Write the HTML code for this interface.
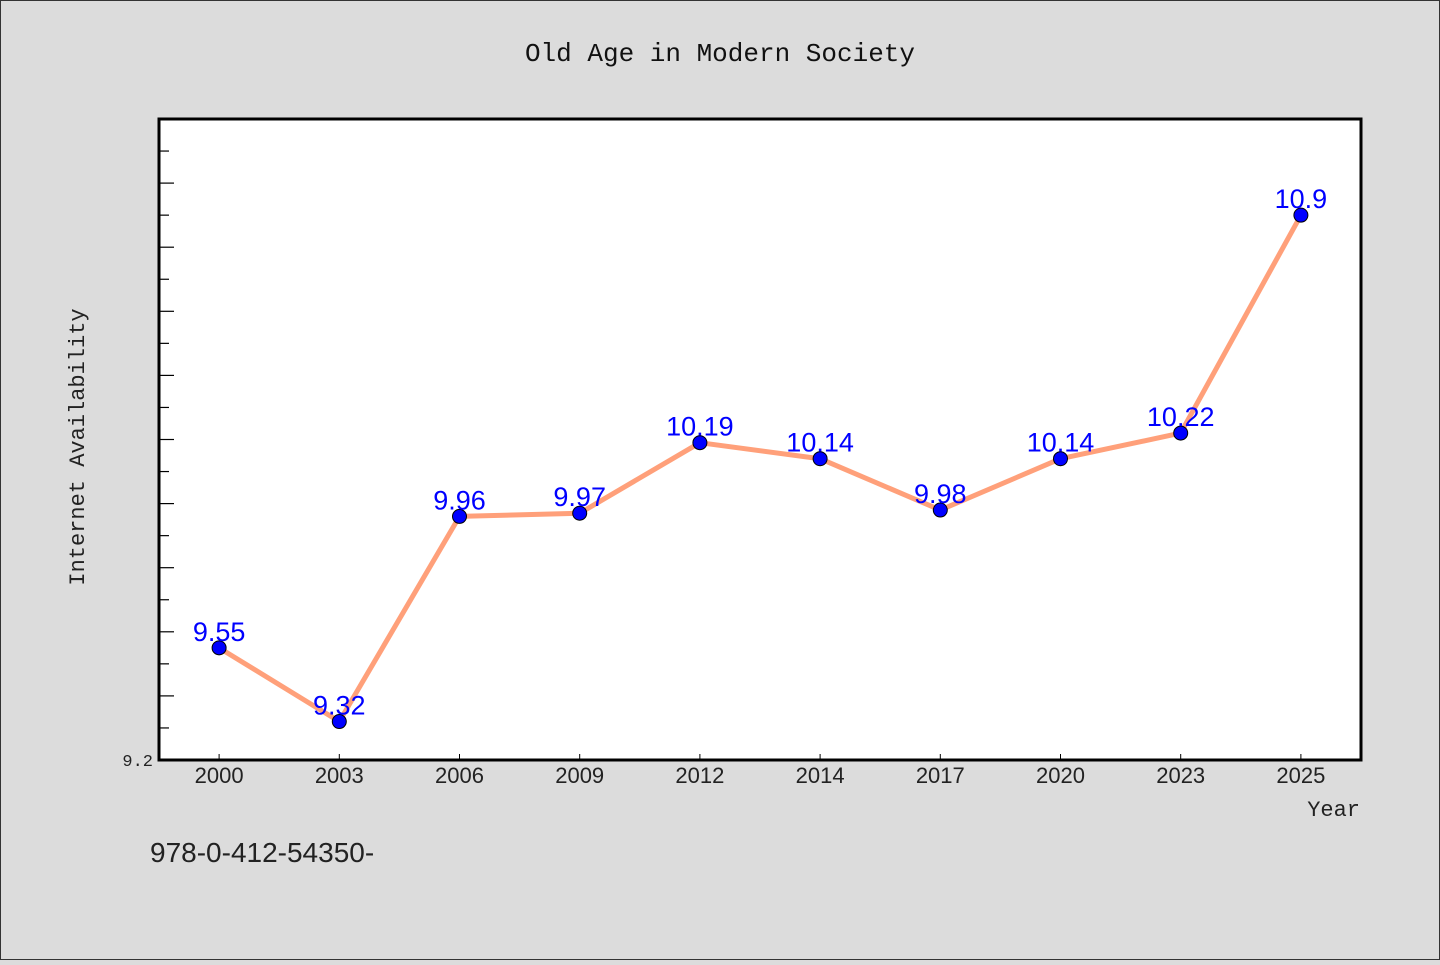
<!DOCTYPE html>
<html><head><meta charset="utf-8"><style>
html,body{margin:0;padding:0;}
body{width:1440px;height:960px;background:#dcdcdc;overflow:hidden;}
svg text{font-family:"Liberation Sans","WenQuanYi Zen Hei",sans-serif;}
</style></head><body>
<svg id="chart" width="1440" height="960" xmlns="http://www.w3.org/2000/svg">
<rect x="0.5" y="0.5" width="1439" height="959" fill="#dcdcdc" stroke="#333" stroke-width="1"/>
<text x="720" y="61" text-anchor="middle" font-size="26" style="font-family:'Liberation Mono',monospace" fill="#111">Old Age in Modern Society</text>
<rect x="159" y="119" width="1202" height="641" fill="#fff" stroke="#000" stroke-width="3"/>
<g id="yticks"></g><g id="xticks"></g><g id="series"></g>
<text x="153" y="766" text-anchor="end" font-size="17" style="font-family:'Liberation Mono',monospace" fill="#222">9.2</text>
<text transform="translate(84,447) rotate(-90)" text-anchor="middle" font-size="22" style="font-family:'Liberation Mono',monospace" fill="#222">Internet Availability</text>
<text x="1360" y="816" text-anchor="end" font-size="22" style="font-family:'Liberation Mono',monospace" fill="#222">Year</text>
<text x="150" y="862" font-size="28" fill="#222">978-0-412-54350-</text>
</svg>
<script>
const categories=["2000","2003","2006","2009","2012","2014","2017","2020","2023","2025"];
const values=[9.55,9.32,9.96,9.97,10.19,10.14,9.98,10.14,10.22,10.9];
const yMin=9.2, yMax=11.2;
const ns="http://www.w3.org/2000/svg";
const L=159,R=1361,T=119,B=760;
function x(i){return L+(R-L)/categories.length*(i+0.5);}
function y(v){return B-(v-yMin)/(yMax-yMin)*(B-T);}
function mk(tag,attrs,parent){const e=document.createElementNS(ns,tag);for(const k in attrs)e.setAttribute(k,attrs[k]);parent.appendChild(e);return e;}
const yt=document.getElementById('yticks');
for(let k=1;k<20;k++){const v=yMin+k*0.1;const yy=y(v);
const t=mk('line',{x1:L,x2:L+(k%2==0?15:10),y1:yy,y2:yy,stroke:'#000','stroke-width':1.2},yt);

}
const xt=document.getElementById('xticks');
categories.forEach((c,i)=>{
const t=mk('line',{x1:x(i),x2:x(i),y1:B-6,y2:B,stroke:'#000','stroke-width':1},xt);


const l=mk('text',{x:x(i),y:B+23,'text-anchor':'middle','font-size':22,fill:'#222'},xt);


l.textContent=c;});
const s=document.getElementById('series');
const line=mk('polyline',{points:values.map((v,i)=>x(i)+','+y(v)).join(' '),fill:'none',stroke:'#ffa07a','stroke-width':5,'stroke-linejoin':'round'},s);


values.forEach((v,i)=>{
const c=mk('circle',{cx:x(i),cy:y(v),r:7,fill:'#0000ff',stroke:'#000','stroke-width':1},s);


const t=mk('text',{x:x(i),y:y(v)-7,'text-anchor':'middle','font-size':27,fill:'#0000ff'},s);


t.textContent=String(v);});
</script>
</body></html>
